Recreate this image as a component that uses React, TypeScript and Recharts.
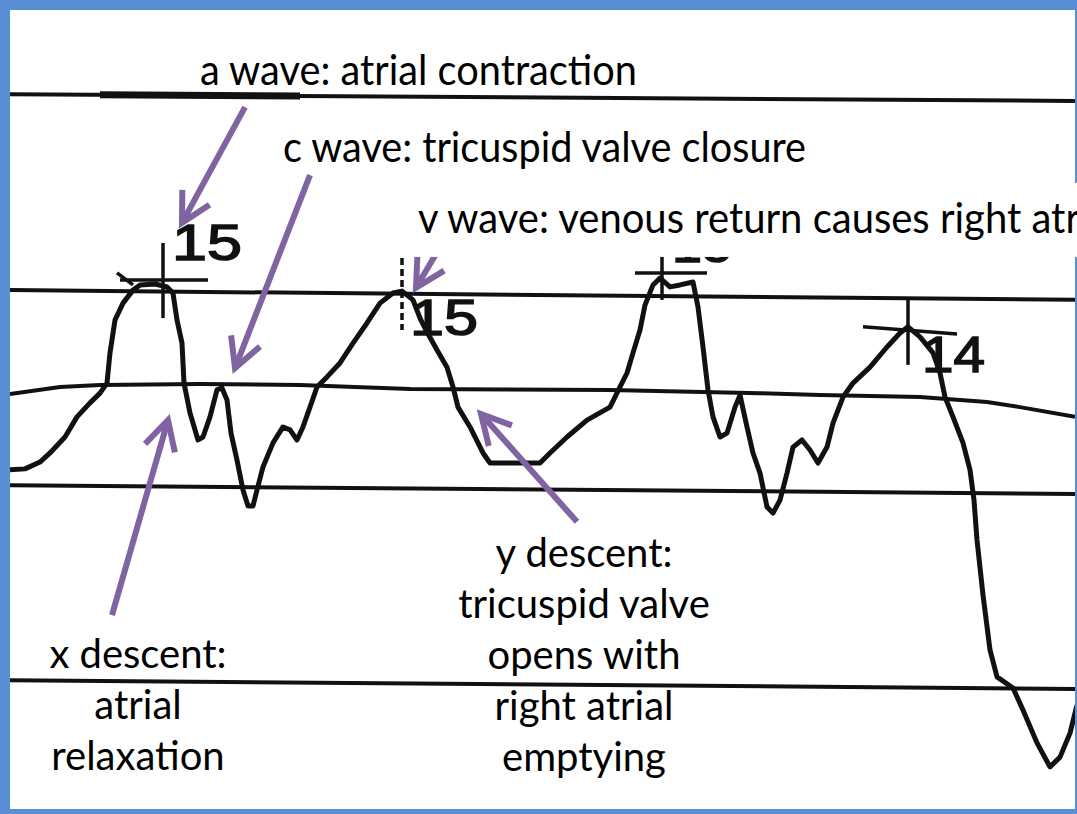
import { LineChart, Line, XAxis, YAxis, ReferenceLine, ReferenceDot } from 'recharts'

// time in ms (t), pressure in mmHg (p)
const traceT = [
  0, 15, 30, 40, 55, 67, 80, 90, 97, 100, 105, 113, 123, 130, 145, 157, 163, 167, 172, 174,
  180, 188, 193, 200, 207, 212, 217, 221, 227, 233, 238, 243, 247, 253, 263, 273, 280, 287, 293, 300,
  307, 317, 330, 343, 357, 370, 383, 392, 403, 410, 417, 427, 437, 443, 448, 460, 473, 480, 530, 540,
  557, 577, 600, 610, 617, 623, 630, 635, 643, 650, 660, 670, 683, 688, 693, 698, 703, 710, 717, 725,
  730, 737, 743, 750, 757, 763, 770, 777, 783, 792, 800, 808, 817, 823, 833, 843, 860, 877, 890, 898,
  910, 923, 930, 935, 943, 953, 960, 964, 967, 973, 980, 987, 1003, 1013, 1027, 1040, 1050, 1060, 1067,
]
const traceP = [
  9.62, 9.65, 9.86, 10.14, 10.63, 11.25, 11.68, 11.98, 12.29, 13.22, 14.23, 14.75, 15.15, 15.31, 15.34, 15.25, 15.06, 14.23, 13.52, 12.29,
  11.37, 10.54, 10.63, 11.25, 12.08, 12.14, 11.77, 10.75, 9.92, 9.0, 8.51, 8.51, 9.0, 9.71, 10.45, 10.94, 10.85, 10.54, 10.94, 11.55,
  12.17, 12.48, 12.91, 13.52, 14.14, 14.75, 15.06, 15.12, 14.85, 14.29, 13.86, 13.31, 12.78, 12.17, 11.55, 10.94, 10.14, 9.83, 9.83, 10.14,
  10.63, 11.15, 11.55, 12.17, 12.6, 13.22, 13.92, 14.69, 15.31, 15.52, 15.25, 15.31, 15.4, 14.63, 13.4, 12.08, 11.25, 10.63, 10.75, 11.55,
  11.92, 10.94, 10.14, 9.52, 8.48, 8.29, 8.69, 9.52, 10.32, 10.54, 10.23, 9.83, 10.32, 11.06, 11.86, 12.29, 12.78, 13.4, 13.83, 14.02,
  13.71, 13.22, 12.6, 11.86, 11.25, 10.45, 9.62, 8.69, 7.46, 5.77, 4.08, 3.25, 2.91, 2.23, 1.22, 0.48, 0.78, 1.52, 2.38,
]

// drifting second trace across the middle
const baseT = [0, 50, 90, 190, 290, 400, 600, 750, 810, 910, 977, 1010, 1065]
const baseP = [11.95, 12.17, 12.23, 12.26, 12.23, 12.11, 12.08, 11.98, 11.92, 11.86, 11.71, 11.55, 11.25]

// paper grid lines (left / right end, slightly tilted scan)
const gridLeftP = [21.18, 15.15, 9.15, 3.15]
const gridRightP = [20.97, 14.85, 8.88, 2.88]

// hand marks on the scan: [t0, p0, t1, p1]
const markSegs = [
  [107, 15.68, 123, 15.31],
  [110, 15.46, 198, 15.46],
  [153, 16.6, 153, 14.29],
  [625, 15.68, 697, 15.68],
  [652, 16.6, 652, 14.85],
  [853, 14.02, 947, 13.8],
  [898, 14.85, 898, 12.85],
]
const dashedMark = [392, 16.14, 392, 13.92]
const scanText = ['15', '15', '15', '14']
const scanT = [162, 400, 662, 912]
const scanP = [16.08, 13.77, 16.02, 12.63]
const scanWidth = [70, 68, 60, 63]

// annotation arrows: tail -> tip
const arrowFrom = [[235, 20.78], [300, 18.69], [102, 5.15], [433, 16.63], [567, 8.02]]
const arrowTo = [[172, 17.22], [225, 12.75], [158, 11.15], [406, 15.22], [471, 11.34]]

const noteLines = [
  ['a wave: atrial contraction'],
  ['c wave: tricuspid valve closure'],
  ['v wave: venous return causes right atr'],
  ['x descent:', 'atrial', 'relaxation'],
  ['y descent:', 'tricuspid valve', 'opens with', 'right atrial', 'emptying'],
]
const noteT = [190, 273, 408, 128, 574]
const noteP = [21.46, 19.09, 16.91, 3.52, 6.63]

const W = 1077
const H = 814
const BLUE = '#578ED6'
const PURPLE = '#8064A2'
const INK = '#111'
const FONT = 'Lato, "Open Sans", sans-serif'

const trace = traceT.map((t, i) => ({ t, p: traceP[i] }))
const base = baseT.map((t, i) => ({ t, p: baseP[i] }))

const Arrow = (props: any) => {
  const { x1, y1, x2, y2 } = props
  const ang = Math.atan2(y1 - y2, x1 - x2)
  const L = 33
  const a = (28 * Math.PI) / 180
  const w1 = `${x2 + L * Math.cos(ang + a)},${y2 + L * Math.sin(ang + a)}`
  const w2 = `${x2 + L * Math.cos(ang - a)},${y2 + L * Math.sin(ang - a)}`
  return (
    <g stroke={PURPLE} strokeWidth={6} fill="none">
      <line x1={x1} y1={y1} x2={x2} y2={y2} />
      <polyline points={`${w1} ${x2},${y2} ${w2}`} strokeLinejoin="miter" />
    </g>
  )
}

const Note = ({ cx, cy, i }: { cx: number; cy: number; i: number }) => {
  const lines = noteLines[i]
  const multi = lines.length > 1
  const fixed = [437, 523, 662]
  return (
    <g>
      {i === 2 && <rect x={cx - 8} y={cy - 50} width={W - cx + 20} height={74} fill="#fff" />}
      {lines.map((s, k) => (
        <text
          key={k}
          x={cx}
          y={cy + k * 51}
          fontFamily={FONT}
          fontSize={multi ? 40 : 42}
          fill="#000"
          textAnchor={multi ? 'middle' : 'start'}
          {...(multi ? {} : { textLength: fixed[i], lengthAdjust: 'spacingAndGlyphs' })}
        >
          {s}
        </text>
      ))}
    </g>
  )
}

export default function App() {
  return (
    <div style={{ position: 'absolute', left: 0, top: 0, width: W, height: H, background: BLUE }}>
      <div style={{ position: 'absolute', left: 10, top: 10, width: 1065, height: 799, background: '#fff' }} />
      <div style={{ position: 'absolute', left: 0, top: 0 }}>
        <LineChart width={W} height={H} margin={{ top: 10, right: 2, bottom: 5, left: 10 }}>
          <XAxis dataKey="t" type="number" domain={[0, 1065]} hide allowDataOverflow />
          <YAxis type="number" domain={[-0.815, 23.769]} hide allowDataOverflow />

          {gridLeftP.map((p, i) => (
            <ReferenceLine
              key={'g' + i}
              segment={[{ x: 0, y: p }, { x: 1065, y: gridRightP[i] }]}
              stroke={INK}
              strokeWidth={4}
            />
          ))}
          <ReferenceLine segment={[{ x: 90, y: 21.16 }, { x: 290, y: 21.12 }]} stroke={INK} strokeWidth={7} />

          {markSegs.map((s, i) => (
            <ReferenceLine
              key={'m' + i}
              segment={[{ x: s[0], y: s[1] }, { x: s[2], y: s[3] }]}
              stroke={INK}
              strokeWidth={3.5}
            />
          ))}
          <ReferenceLine
            segment={[{ x: dashedMark[0], y: dashedMark[1] }, { x: dashedMark[2], y: dashedMark[3] }]}
            stroke={INK}
            strokeWidth={3.5}
            strokeDasharray="7 4"
          />

          <Line data={base} dataKey="p" stroke={INK} strokeWidth={4} dot={false} isAnimationActive={false} />
          <Line
            data={trace}
            dataKey="p"
            stroke={INK}
            strokeWidth={5}
            strokeLinejoin="round"
            dot={false}
            isAnimationActive={false}
          />

          {scanText.map((s, i) => (
            <ReferenceDot
              key={'s' + i}
              x={scanT[i]}
              y={scanP[i]}
              shape={(p: any) => (
                <text
                  x={p.cx}
                  y={p.cy}
                  fontFamily='"Liberation Sans", Arial, sans-serif'
                  fontSize={50}
                  fill={INK}
                  stroke={INK}
                  strokeWidth={1.5}
                  textLength={scanWidth[i]}
                  lengthAdjust="spacingAndGlyphs"
                >
                  {s}
                </text>
              )}
            />
          ))}

          {arrowFrom.map((f, i) => (
            <ReferenceLine
              key={'a' + i}
              segment={[{ x: f[0], y: f[1] }, { x: arrowTo[i][0], y: arrowTo[i][1] }]}
              shape={Arrow}
            />
          ))}

          {noteLines.map((_, i) => (
            <ReferenceDot
              key={'n' + i}
              x={noteT[i]}
              y={noteP[i]}
              shape={(p: any) => <Note cx={p.cx} cy={p.cy} i={i} />}
            />
          ))}
        </LineChart>
      </div>
    </div>
  )
}
